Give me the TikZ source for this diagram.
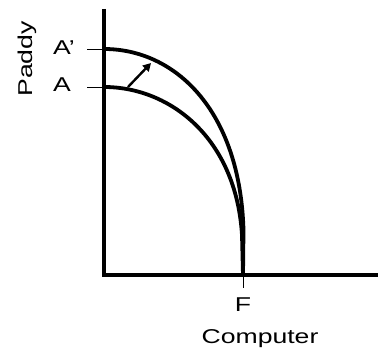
\documentclass[tikz,border=0pt]{standalone}
\usepackage{fontspec}
\setmainfont{Liberation Sans}
\newfontfamily\lblfont[FakeStretch=1.33]{Liberation Sans}
\usetikzlibrary{arrows.meta}

\begin{document}
\begin{tikzpicture}[x=1pt,y=1pt,
  lbl/.style={font=\lblfont\fontsize{20}{24}\selectfont,inner sep=0pt},
  axis/.style={line width=3.4pt},
  ppf/.style={line width=3.8pt,line join=round},
  tick/.style={line width=0.9pt},
  arr/.style={-{Triangle[length=8pt,width=8.5pt]},line width=2.4pt}]
\useasboundingbox (0,0) rectangle (378,353);
% axes
\coordinate (O) at (104,78);
\coordinate (ytop) at (104,344);
\coordinate (xend) at (378,78);
\draw[axis] (ytop) -- (O) -- (xend);
% intercepts
\coordinate (Ap) at (104,304);
\coordinate (A) at (104,266);
\coordinate (F) at (243,78);
\draw[tick] (Ap) -- ++(-17,0) coordinate (Aptick);
\draw[tick] (A) -- ++(-17,0) coordinate (Atick);
\draw[tick] (F) -- ++(0,-13) coordinate (Ftick);
% frontiers
\draw[ppf] (A) .. controls (170,266) and (236,215) .. (242,118) -- (F);
\draw[ppf] (Ap) .. controls (175,304) and (240,243) .. (243.5,123) -- (F);
% shift
\coordinate (s0) at (128,266);
\coordinate (s1) at (151,290);
\draw[arr] (s0) -- (s1);
% labels
\node[lbl,anchor=base west] (lAp) at (53,298) {A’};
\node[lbl,anchor=base west] (lA) at (53,261) {A};
\node[lbl,anchor=base] (lF) at (243,41) {F};
\node[lbl,anchor=base] (xlab) at (260,9) {Computer};
\node[lbl,anchor=base,rotate=90] (ylab) at (32,294) {Paddy};
\end{tikzpicture}
\end{document}
